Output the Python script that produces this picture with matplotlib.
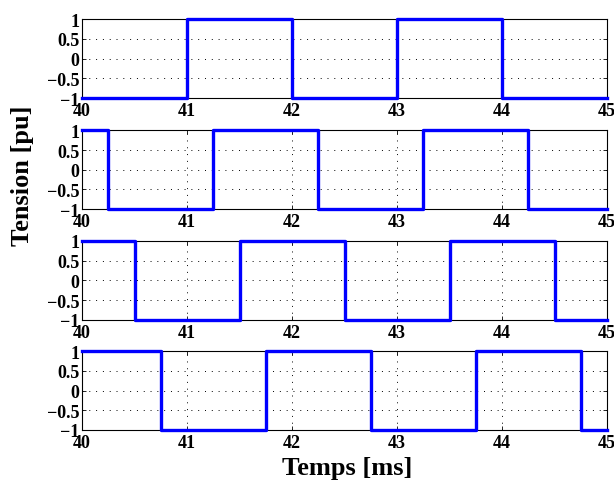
import matplotlib
matplotlib.use("Agg")
import matplotlib.pyplot as plt

# switching instants [ms] and levels [pu] for each leg
t1 = [40, 41, 42, 43, 44, 45]
v1 = [-1, 1, -1, 1, -1, -1]
t2 = [40, 40.25, 41.25, 42.25, 43.25, 44.25, 45]
v2 = [1, -1, 1, -1, 1, -1, -1]
t3 = [40, 40.5, 41.5, 42.5, 43.5, 44.5, 45]
v3 = [1, -1, 1, -1, 1, -1, -1]
t4 = [40, 40.75, 41.75, 42.75, 43.75, 44.75, 45]
v4 = [1, -1, 1, -1, 1, -1, -1]

xticks = [40, 41, 42, 43, 44, 45]
yticks = [-1, -0.5, 0, 0.5, 1]
yticklabels = ["\u22121", "\u22120.5", "0", "0.5", "1"]

plt.rcParams["font.family"] = ["Liberation Serif", "DejaVu Serif"]
plt.rcParams["font.weight"] = "bold"

fig = plt.figure(figsize=(6.14, 4.81), dpi=100)
left, width, height = 0.1336, 0.855, 0.164
bottoms = [0.794, 0.563, 0.333, 0.104]
series = [(t1, v1), (t2, v2), (t3, v3), (t4, v4)]

for b, (t, v) in zip(bottoms, series):
    ax = fig.add_axes([left, b, width, height])
    ax.plot(t, v, drawstyle="steps-post", color="#0000ff", lw=2.4, clip_on=False, zorder=3)
    ax.set_xlim(40, 45)
    ax.set_ylim(-1, 1)
    ax.set_xticks(xticks)
    ax.set_xticklabels([str(x) for x in xticks], fontsize=13, fontweight="bold")
    ax.set_yticks(yticks)
    ax.set_yticklabels(yticklabels, fontsize=13, fontweight="bold")
    ax.tick_params(direction="in", top=True, right=True, length=3, width=0.6)
    ax.tick_params(axis="x", pad=3)
    ax.tick_params(axis="y", pad=2)
    ax.grid(True, linestyle=(0, (1, 6)), color="black", lw=0.7)
    for s in ax.spines.values():
        s.set_linewidth(0.8)

fig.text(0.036, 0.635, "Tension [pu]", rotation=90, ha="center", va="center",
         fontsize=19, fontweight="bold")
fig.text(0.565, 0.027, "Temps [ms]", ha="center", va="center",
         fontsize=19, fontweight="bold")

fig.savefig("out.png", dpi=100)
